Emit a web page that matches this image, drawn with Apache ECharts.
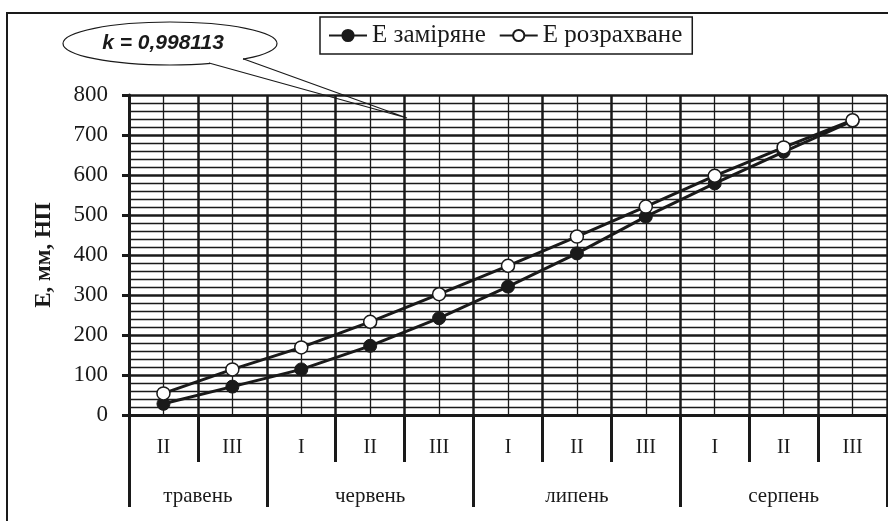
<!DOCTYPE html>
<html>
<head>
<meta charset="utf-8">
<script src="https://cdn.jsdelivr.net/npm/echarts@6/dist/echarts.min.js"></script>
<style>
  html, body { margin: 0; padding: 0; background: #fff; }
  #chart { width: 888px; height: 521px; }
</style>
</head>
<body>
<div id="chart"></div>
<script>
// декади по місяцях
var decades = ['II', 'III', 'I', 'II', 'III', 'I', 'II', 'III', 'I', 'II', 'III']
var months = ['травень', 'червень', 'липень', 'серпень']
var monthLen = [2, 3, 3, 3]
var measured = [28, 71, 114, 173, 242, 321, 404, 496, 579, 658, 735]
var calculated = [54, 114, 169, 233, 302, 373, 446, 521, 598, 669, 737]
var yTicks = [0, 100, 200, 300, 400, 500, 600, 700, 800]

// межі та центри місяців (в декадах)
var bounds = [0], centers = []
monthLen.forEach(function (n) {
  var s = bounds[bounds.length - 1]
  centers.push(s + n / 2)
  bounds.push(s + n)
})

var ink = '#1a1a1a'
var serif = '"Liberation Serif", "Times New Roman", serif'

var myChart = echarts.init(document.getElementById('chart'))
var option = {
  animation: false,
  backgroundColor: '#fff',
  grid: { left: 129, right: 1, top: 95, bottom: 106 },
  legend: {
    left: 320, top: 17,
    padding: [6, 10, 6, 8],
    borderColor: ink, borderWidth: 1.5,
    itemWidth: 38, itemHeight: 14, itemGap: 13,
    textStyle: { fontFamily: serif, fontSize: 25, color: ink },
    data: ['E заміряне', 'E розрахване']
  },
  xAxis: [
    {
      type: 'category', data: decades, boundaryGap: true,
      axisLine: { show: true, lineStyle: { color: ink, width: 3 } },
      axisTick: { show: true, interval: 0, length: 47, lineStyle: { color: ink, width: 3 } },
      axisLabel: { interval: 0, margin: 23, fontFamily: serif, fontSize: 20, color: ink },
      splitLine: { show: false }
    },
    {
      // сітка: товсті лінії на межах декад, тонкі по центрах
      type: 'value', min: 0, max: decades.length * 2, interval: 2,
      position: 'bottom', show: true,
      axisLine: { show: false }, axisTick: { show: false }, axisLabel: { show: false },
      splitLine: { show: true, lineStyle: { color: ink, width: 2.5 } },
      minorTick: { show: false, splitNumber: 2 },
      minorSplitLine: { show: true, lineStyle: { color: ink, width: 1.3 } }
    },
    {
      // місяці
      type: 'value', min: 0, max: decades.length,
      position: 'bottom',
      axisLine: { show: false },
      axisTick: { show: true, customValues: bounds, length: 92, lineStyle: { color: ink, width: 3 } },
      axisLabel: {
        show: true, customValues: centers, margin: 71,
        fontFamily: serif, fontSize: 21, color: ink,
        formatter: function (v) { return months[centers.indexOf(v)] }
      },
      splitLine: { show: false }
    }
  ],
  yAxis: {
    type: 'value', min: yTicks[0], max: yTicks[yTicks.length - 1], interval: 100,
    name: 'E, мм, НП', nameLocation: 'middle', nameRotate: 90, nameGap: 73,
    nameTextStyle: { fontFamily: serif, fontSize: 23, fontWeight: 'bold', color: ink },
    axisLine: { show: true, lineStyle: { color: ink, width: 3 } },
    axisTick: { show: true, length: 7, lineStyle: { color: ink, width: 3 } },
    axisLabel: { margin: 21, fontFamily: serif, fontSize: 23, color: ink },
    splitLine: { show: true, lineStyle: { color: ink, width: 2.5 } },
    minorTick: { show: false, splitNumber: 5 },
    minorSplitLine: { show: true, lineStyle: { color: ink, width: 1.3 } }
  },
  series: [
    {
      name: 'E заміряне', type: 'line', data: measured,
      symbol: 'circle', symbolSize: 13,
      lineStyle: { color: ink, width: 3 },
      itemStyle: { color: ink, borderColor: ink, borderWidth: 1 },
      z: 5
    },
    {
      name: 'E розрахване', type: 'line', data: calculated,
      symbol: 'circle', symbolSize: 13,
      lineStyle: { color: ink, width: 3 },
      itemStyle: { color: '#fff', borderColor: ink, borderWidth: 1.5 },
      z: 6
    }
  ],
  graphic: [
    {
      type: 'rect', silent: true, z: 100,
      shape: { x: 7, y: 13, width: 900, height: 600 },
      style: { fill: 'none', stroke: ink, lineWidth: 2 }
    },
    {
      type: 'ellipse', silent: true, z: 100,
      shape: { cx: 170, cy: 43.5, rx: 107, ry: 21.5 },
      style: { fill: '#fff', stroke: ink, lineWidth: 1.2 }
    },
    {
      type: 'polygon', silent: true, z: 101,
      shape: { points: [[210, 61], [243, 57], [243, 61], [210, 66]] },
      style: { fill: '#fff' }
    },
    {
      type: 'polyline', silent: true, z: 102,
      shape: { points: [[209, 63], [407, 118], [243, 58.8]] },
      style: { fill: 'none', stroke: ink, lineWidth: 1.2 }
    },
    {
      type: 'text', silent: true, z: 103,
      x: 163, y: 43,
      style: {
        text: 'k = 0,998113', align: 'center', verticalAlign: 'middle',
        font: 'italic bold 21px "Liberation Sans", Arial, sans-serif', fill: ink
      }
    }
  ]
}
myChart.setOption(option)
</script>
</body>
</html>
